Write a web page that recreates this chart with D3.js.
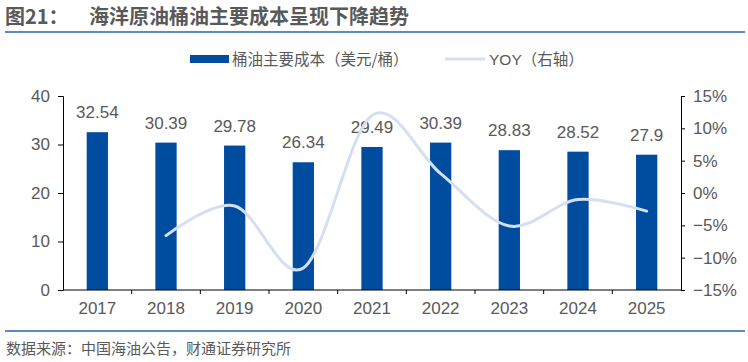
<!DOCTYPE html>
<html>
<head>
<meta charset="utf-8">
<script src="https://cdn.jsdelivr.net/npm/d3@7"></script>
<style>
  body { margin: 0; background: #fff; }
  svg text { font-family: "Liberation Sans", "Noto Sans CJK SC", sans-serif; fill: #595959; }
  .cjk { font-family: "Noto Sans CJK SC", sans-serif; }
  .axis path, .axis line { stroke: #000; stroke-width: 1; }
  .axis text { font-size: 17px; fill: #595959; }
</style>
</head>
<body>
<svg id="chart" width="748" height="362"></svg>
<script>
  // data
  var years = ["2017", "2018", "2019", "2020", "2021", "2022", "2023", "2024", "2025"];
  var cost = [32.54, 30.39, 29.78, 26.34, 29.49, 30.39, 28.83, 28.52, 27.9];
  var yoy = [null, -0.066, -0.020, -0.116, 0.120, 0.030, -0.051, -0.010, -0.028];
  var leftTicks = [0, 10, 20, 30, 40];
  var rightTicks = [-0.15, -0.10, -0.05, 0, 0.05, 0.10, 0.15];

  var svg = d3.select("#chart");
  var blue = "#004DA0";

  // title
  svg.append("text").attr("class", "cjk").attr("x", 5).attr("y", 24)
    .style("font-size", "20px").style("font-weight", "bold").text("图21：");
  svg.append("text").attr("class", "cjk").attr("x", 89).attr("y", 24)
    .style("font-size", "20px").style("font-weight", "bold").text("海洋原油桶油主要成本呈现下降趋势");
  svg.append("line").attr("x1", 5).attr("x2", 745).attr("y1", 32).attr("y2", 32)
    .attr("stroke", "#2a62ad").attr("stroke-width", 1.5);

  // legend
  svg.append("rect").attr("x", 190).attr("y", 55).attr("width", 39).attr("height", 8).attr("fill", blue);
  svg.append("text").attr("class", "cjk").attr("x", 232).attr("y", 64.5)
    .style("font-size", "15.5px").text("桶油主要成本（美元/桶）");
  svg.append("line").attr("x1", 445).attr("x2", 485).attr("y1", 59).attr("y2", 59)
    .attr("stroke", "#d5dff4").attr("stroke-width", 3);
  svg.append("text").attr("x", 489).attr("y", 64.5)
    .style("font-size", "15.5px").text("YOY（右轴）");

  var plotL = 63, plotR = 681, plotT = 96, plotB = 290;

  var x = d3.scaleBand().domain(years).range([plotL, plotR]);
  var y = d3.scaleLinear().domain([0, 40]).range([plotB, plotT]);
  var y2 = d3.scaleLinear().domain([-0.15, 0.15]).range([plotB, plotT]);

  // bars
  var bw = x.bandwidth() * 0.31;
  svg.selectAll(".bar").data(years).enter().append("rect")
    .attr("class", "bar")
    .attr("x", function(d) { return x(d) + (x.bandwidth() - bw) / 2; })
    .attr("y", function(d, i) { return y(cost[i]); })
    .attr("width", bw)
    .attr("height", function(d, i) { return plotB - y(cost[i]); })
    .attr("fill", blue);

  // bar labels
  svg.selectAll(".lbl").data(years).enter().append("text")
    .attr("class", "lbl")
    .attr("x", function(d) { return x(d) + x.bandwidth() / 2; })
    .attr("y", function(d, i) { return y(cost[i]) - 14; })
    .attr("text-anchor", "middle")
    .style("font-size", "17px")
    .text(function(d, i) { return cost[i]; });

  // yoy line
  var pts = years.map(function(d, i) { return [x(d) + x.bandwidth() / 2, yoy[i]]; })
    .filter(function(p) { return p[1] !== null; });
  var line = d3.line()
    .x(function(p) { return p[0]; })
    .y(function(p) { return y2(p[1]); })
    .curve(d3.curveCardinal.tension(0));
  svg.append("path").datum(pts).attr("d", line)
    .attr("fill", "none").attr("stroke", "#d5dff4").attr("stroke-width", 3)
    .attr("stroke-linecap", "round");

  // axes
  svg.append("g").attr("class", "axis").attr("transform", "translate(" + plotL + ",0)")
    .call(d3.axisLeft(y).tickValues(leftTicks).tickSize(5).tickPadding(8));

  svg.append("g").attr("class", "axis").attr("transform", "translate(" + plotR + ",0)")
    .call(d3.axisRight(y2).tickValues(rightTicks).tickFormat(d3.format(".0%")).tickSize(4).tickPadding(8));

  var xg = svg.append("g").attr("class", "axis").attr("transform", "translate(0," + plotB + ")")
    .call(d3.axisBottom(x).tickSize(0).tickPadding(12));
  xg.select(".domain").remove();
  xg.append("line").attr("x1", plotL).attr("x2", plotR).attr("stroke", "#000");
  xg.selectAll(".sep").data(years.slice(1)).enter().append("line")
    .attr("class", "sep")
    .attr("x1", function(d) { return x(d); }).attr("x2", function(d) { return x(d); })
    .attr("y1", 0).attr("y2", 4).attr("stroke", "#000");

  // footer
  svg.append("line").attr("x1", 5).attr("x2", 745).attr("y1", 331).attr("y2", 331)
    .attr("stroke", "#2a62ad").attr("stroke-width", 1.5);
  svg.append("text").attr("class", "cjk").attr("x", 6).attr("y", 354)
    .style("font-size", "15px").text("数据来源：中国海油公告，财通证券研究所");
</script>
</body>
</html>
